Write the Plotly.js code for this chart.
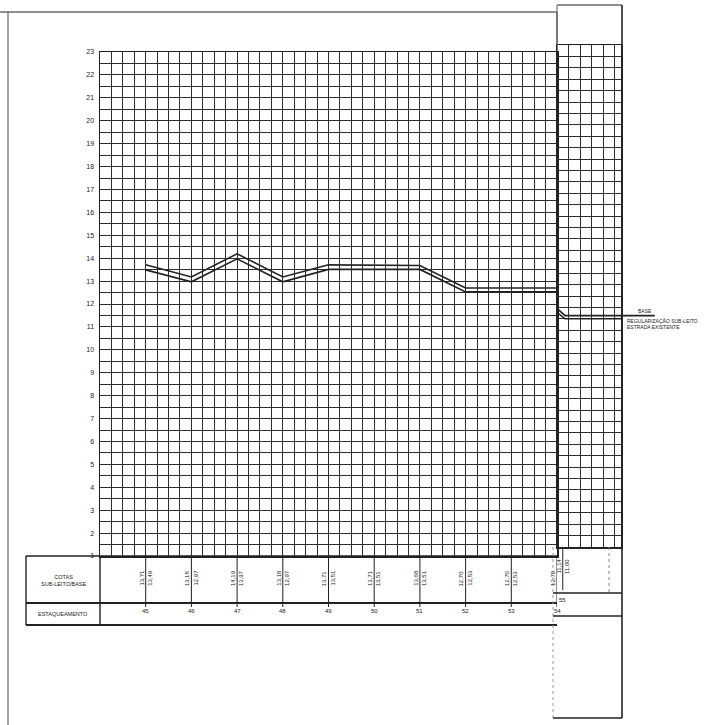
<!DOCTYPE html>
<html>
<head>
<meta charset="utf-8">
<script src="https://cdn.plot.ly/plotly-3.0.1.min.js"></script>
<style>
html,body{margin:0;padding:0;background:#fff;}
#chart{width:715px;height:725px;}
</style>
</head>
<body>
<div id="chart"></div>
<script>
// ---- data ----
const stations1 = [45, 46, 47, 48, 49, 50, 51, 52, 53, 54];
const stationLabels1 = ['45', '46', '47', '48', '49', '50', '51', '52', '53', '54'];
const base1 = [13.71, 13.18, 14.19, 13.18, 13.71, 13.71, 13.68, 12.70, 12.70, 12.70];
const subleito1 = [13.49, 12.97, 13.97, 12.97, 13.51, 13.51, 13.51, 12.53, 12.53, 12.53];

const stations2 = [54.88, 55.05, 56.27];
const base2 = [11.45, 11.14, 11.14];
const subleito2 = [11.27, 11.00, 11.00];

const stations3 = [56.27, 57.0];
const base3 = [11.14, 11.14];

const station2Tick = [55];
const station2Label = ['55'];
const base2Label = [11.14];
const subleito2Label = [11.00];

const yLabels = [1,2,3,4,5,6,7,8,9,10,11,12,13,14,15,16,17,18,19,20,21,22,23];

const rowLabels = ['COTAS<br>SUB-LEITO/BASE', 'ESTAQUEAMENTO'];
const legendTexts = ['BASE', 'REGULARIZAÇÃO SUB-LEITO', 'ESTRADA EXISTENTE'];

// ---- helpers ----
const W = 715, H = 725;
const fx = p => p / W;
const fy = p => 1 - p / H;
const fmt = v => v.toFixed(2).replace('.', ',');
const ink = '#222222';
const gridCol = '#2e2e2e';
const font = 'Liberation Sans, Arial, sans-serif';

// y ticks: half-unit grid, labels on integers
const yTickVals = [], yTickText = [];
yLabels.forEach((v, i) => {
  yTickVals.push(v); yTickText.push(String(v));
  if (i < yLabels.length - 1) { yTickVals.push(v + 0.5); yTickText.push(''); }
});

const lineStyle = {color: ink, width: 1.6};
const traces = [
  {x: stations1, y: base1, xaxis: 'x', yaxis: 'y', mode: 'lines', line: lineStyle, hoverinfo: 'skip'},
  {x: stations1, y: subleito1, xaxis: 'x', yaxis: 'y', mode: 'lines', line: lineStyle, hoverinfo: 'skip'},
  {x: stations2, y: base2, xaxis: 'x2', yaxis: 'y2', mode: 'lines', line: lineStyle, hoverinfo: 'skip'},
  {x: stations2, y: subleito2, xaxis: 'x2', yaxis: 'y2', mode: 'lines', line: lineStyle, hoverinfo: 'skip'},
  {x: stations3, y: base3, xaxis: 'x3', yaxis: 'y3', mode: 'lines', line: lineStyle, hoverinfo: 'skip'}
];

const shapes = [];
const annotations = [];
function pline(x0, y0, x1, y1, w, col, dash) {
  shapes.push({type: 'line', xref: 'paper', yref: 'paper', x0: fx(x0), y0: fy(y0), x1: fx(x1), y1: fy(y1),
    line: {color: col || ink, width: w || 1.2, dash: dash || 'solid'}});
}
// page frame
pline(0, 12, 557, 12, 1.2);
pline(8, 12, 8, 725, 1.2, '#666');
pline(557, 12, 557, 52, 1.2);
// sheet 1 table
pline(26, 556, 557, 556, 1.6);
pline(26, 603, 557, 603, 1.8);
pline(26, 625, 557, 625, 1.8);
pline(26, 556, 26, 625, 1.4);
pline(100, 556, 100, 625, 1.4);
// sheet 2 frame
pline(557, 5, 622, 5, 1.2);
pline(557, 5, 557, 45, 1.2, '#777');
pline(622, 5, 622, 718, 1.6);
pline(553, 547, 553, 718, 1, '#999', 'dot');
pline(553, 593, 622, 593, 1.6);
pline(553, 616, 622, 616, 1.6);
pline(553, 718, 622, 718, 1.4);
pline(609, 547, 609, 593, 1, '#888', 'dot');

const lblFont = {family: font, size: 6, color: ink};
// station ticks in cotas row (sheet 1)
stations1.forEach((s, i) => {
  shapes.push({type: 'line', xref: 'x', yref: 'paper', x0: s, x1: s, y0: fy(556), y1: fy(607),
    line: {color: ink, width: 1}});
  annotations.push({xref: 'x', yref: 'paper', x: s - 0.09, y: fy(578), text: fmt(base1[i]), textangle: -90,
    showarrow: false, font: lblFont, xanchor: 'center', yanchor: 'middle'});
  annotations.push({xref: 'x', yref: 'paper', x: s + 0.09, y: fy(578), text: fmt(subleito1[i]), textangle: -90,
    showarrow: false, font: lblFont, xanchor: 'center', yanchor: 'middle'});
  annotations.push({xref: 'x', yref: 'paper', x: s, y: fy(611), text: stationLabels1[i],
    showarrow: false, font: lblFont, xanchor: 'center', yanchor: 'middle'});
});
// sheet 2 station
station2Tick.forEach((s, i) => {
  shapes.push({type: 'line', xref: 'x2', yref: 'paper', x0: s, x1: s, y0: fy(547), y1: fy(590),
    line: {color: ink, width: 1}});
  annotations.push({xref: 'x2', yref: 'paper', x: s - 0.09, y: fy(566), text: fmt(base2Label[i]), textangle: -90,
    showarrow: false, font: lblFont, xanchor: 'center', yanchor: 'middle'});
  annotations.push({xref: 'x2', yref: 'paper', x: s + 0.09, y: fy(566), text: fmt(subleito2Label[i]), textangle: -90,
    showarrow: false, font: lblFont, xanchor: 'center', yanchor: 'middle'});
  annotations.push({xref: 'x2', yref: 'paper', x: s, y: fy(600), text: station2Label[i],
    showarrow: false, font: lblFont, xanchor: 'center', yanchor: 'middle'});
});
// row labels
annotations.push({xref: 'paper', yref: 'paper', x: fx(63), y: fy(580), text: rowLabels[0], showarrow: false,
  font: {family: font, size: 5.5, color: ink}, xanchor: 'center', yanchor: 'middle'});
annotations.push({xref: 'paper', yref: 'paper', x: fx(63), y: fy(614), text: rowLabels[1], showarrow: false,
  font: {family: font, size: 5.5, color: ink}, xanchor: 'center', yanchor: 'middle'});
// legend texts to the right
annotations.push({xref: 'paper', yref: 'paper', x: fx(636), y: fy(311), text: legendTexts[0], showarrow: false,
  font: {family: font, size: 5, color: ink}, xanchor: 'left', yanchor: 'middle'});
annotations.push({xref: 'paper', yref: 'paper', x: fx(625), y: fy(321), text: legendTexts[1], showarrow: false,
  font: {family: font, size: 5, color: ink}, xanchor: 'left', yanchor: 'middle'});
annotations.push({xref: 'paper', yref: 'paper', x: fx(625), y: fy(326.5), text: legendTexts[2], showarrow: false,
  font: {family: font, size: 5, color: ink}, xanchor: 'left', yanchor: 'middle'});

const gridAxis = {showgrid: true, gridcolor: gridCol, gridwidth: 1, zeroline: false, showline: true,
  mirror: true, linecolor: ink, linewidth: 1.5, ticks: '', fixedrange: true};

const x2lo = 54.875, x2hi = 54.875 + 64 / 46;
const layout = {
  width: W, height: H,
  margin: {l: 0, r: 0, t: 0, b: 0},
  paper_bgcolor: '#fff', plot_bgcolor: '#fff',
  showlegend: false,
  xaxis: Object.assign({}, gridAxis, {domain: [fx(100), fx(557)], range: [44, 54], tickmode: 'linear',
    tick0: 44, dtick: 0.25, showticklabels: false, anchor: 'y'}),
  yaxis: Object.assign({}, gridAxis, {domain: [fy(556), fy(52)], range: [1, 23], tickmode: 'array',
    tickvals: yTickVals, ticktext: yTickText, showticklabels: true, ticklabelstandoff: 3,
    tickfont: {family: font, size: 7, color: ink}, anchor: 'x'}),
  xaxis2: Object.assign({}, gridAxis, {domain: [fx(557), fx(621)], range: [x2lo, x2hi], tickmode: 'linear',
    tick0: x2lo, dtick: 0.25, showticklabels: false, anchor: 'y2'}),
  yaxis2: Object.assign({}, gridAxis, {domain: [fy(547), fy(45)], range: [1, 23], tickmode: 'linear',
    tick0: 1, dtick: 0.5, showticklabels: false, anchor: 'x2'}),
  xaxis3: {domain: [fx(621), fx(656)], range: [x2hi, x2hi + 35 / 46], visible: false, anchor: 'y3', fixedrange: true},
  yaxis3: {domain: [fy(547), fy(45)], range: [1, 23], visible: false, anchor: 'x3', fixedrange: true},
  shapes: shapes,
  annotations: annotations
};

Plotly.newPlot('chart', traces, layout, {displayModeBar: false, staticPlot: true});
</script>
</body>
</html>
